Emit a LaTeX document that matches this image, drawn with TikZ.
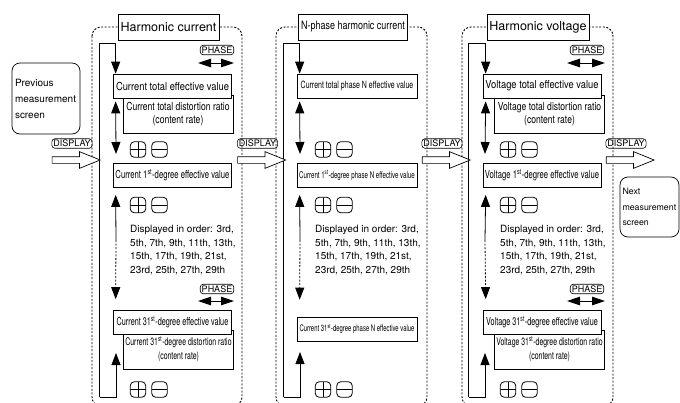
\documentclass[tikz,border=0pt]{standalone}
\usepackage{fontspec}
\setmainfont{TeX Gyre Heros}
\newfontfamily\cnA[FakeStretch=0.85]{TeX Gyre Heros}
\newfontfamily\cnB[FakeStretch=0.78]{TeX Gyre Heros}
\newfontfamily\cnC[FakeStretch=0.70]{TeX Gyre Heros}
\newfontfamily\cnD[FakeStretch=0.66]{TeX Gyre Heros}
\usetikzlibrary{arrows.meta,shapes.arrows}

\tikzset{
  frame/.style={line width=0.9pt,dash pattern=on 2pt off 1.6pt,rounded corners=9pt},
  title/.style={draw,fill=white,line width=0.7pt,minimum height=26pt,inner xsep=2.5pt},
  valbox/.style={draw,fill=white,line width=0.7pt,minimum width=118pt,minimum height=24pt,inner sep=0pt},
  ratiobox/.style={draw,fill=white,line width=0.7pt,minimum width=110pt,inner sep=0pt,align=center},
  key/.style={draw,rounded corners=3pt,line width=0.6pt,inner xsep=1.5pt,inner ysep=0pt,
    minimum height=9.5pt,font=\fontsize{9}{9}\selectfont},
  screen/.style={draw,rounded corners=8pt,line width=0.7pt,align=left,inner xsep=2.5pt},
  pmkey/.style={draw,rounded corners=4pt,line width=0.8pt,minimum size=15.5pt,inner sep=0pt},
  plusbtn/.style={pmkey,path picture={\draw[line width=0.9pt]
    (path picture bounding box.west) -- (path picture bounding box.east)
    (path picture bounding box.north) -- (path picture bounding box.south);}},
  minusbtn/.style={pmkey,path picture={\draw[line width=0.9pt]
    (path picture bounding box.west) -- (path picture bounding box.east);}},
  hollow/.style={single arrow,draw,fill=white,line width=0.7pt,inner sep=3pt,minimum width=16pt,
    single arrow head extend=5pt,single arrow tip angle=44,single arrow head indent=0pt,minimum height=48pt},
  flow/.style={line width=0.8pt,-{Triangle[length=12pt,width=9pt]}},
  twoway/.style={line width=0.8pt,{Triangle[length=12pt,width=9pt]}-{Triangle[length=12pt,width=9pt]}},
  phase/.style={line width=1pt,{Triangle[length=13pt,width=8.5pt]}-{Triangle[length=13pt,width=8.5pt]}},
  skip/.style={line width=0.8pt,dash pattern=on 2pt off 1.6pt,-{Triangle[length=12pt,width=9pt]}},
  order/.style={anchor=north west,align=left,inner sep=0pt,font=\fontsize{10}{13.5}\selectfont}
}

\begin{document}
\begin{tikzpicture}[x=1pt,y=-1pt]
  \useasboundingbox (0,0) rectangle (680,402);

  % screens before and after
  \node[screen,minimum width=68pt,minimum height=71pt,text width=62pt,font=\fontsize{10}{16}\selectfont]
    (prev) at (46,98.5) {Previous\\measurement\\screen};
  \node[screen,minimum width=59pt,minimum height=60pt,text width=54pt,font=\fontsize{8.8}{15.5}\selectfont]
    (next) at (649.5,207) {Next\\measurement\\screen};

  % Harmonic current
  \begin{scope}
    \draw[frame] (92,27) rectangle (242,406);
    \node[title,font=\fontsize{12.5}{13}\selectfont] (hc-title) at (168.5,27) {Harmonic current};
    \coordinate (hc-lt) at (99.5,43);
    \coordinate (hc-lb) at (99.5,397);
    \node[key] (hc-ph1) at (217,50) {PHASE};
    \coordinate (hc-pl1) at (198,63); \coordinate (hc-pr1) at (234,63);
    \draw[phase] (hc-pl1) -- (hc-pr1);
    \node[ratiobox,minimum height=38pt,font=\cnB\fontsize{11}{13}\selectfont] (hc-thd) at (178,114)
      {Current total distortion ratio\\(content rate)};
    \node[valbox,font=\cnA\fontsize{11}{12}\selectfont] (hc-tot) at (172.5,86) {Current total effective value};
    \draw[flow] (hc-lb) -- (hc-lt) -| ([xshift=2.5pt]hc-tot.north west);
    \coordinate (hc-a1) at (116,154);
    \draw[twoway] ([xshift=2.5pt,yshift=-3pt]hc-tot.south west) -- (hc-a1);
    \node[plusbtn] (hc-p1) at (138,149.5) {};
    \node[minusbtn] (hc-m1) at (159.5,149.5) {};
    \node[valbox,font=\cnC\fontsize{11}{12}\selectfont] (hc-1) at (172.5,175.5)
      {Current 1\textsuperscript{st}-degree effective value};
    \node[plusbtn] (hc-p2) at (138,205) {};
    \node[minusbtn] (hc-m2) at (159.5,205) {};
    \node[order] (hc-order) at (130,225.5)
      {Displayed in order: 3rd,\\5th, 7th, 9th, 11th, 13th,\\15th, 17th, 19th, 21st,\\23rd, 25th, 27th, 29th};
    \node[key] (hc-ph2) at (217,289) {PHASE};
    \coordinate (hc-pl2) at (198,301); \coordinate (hc-pr2) at (234,301);
    \draw[phase] (hc-pl2) -- (hc-pr2);
    \node[ratiobox,minimum height=39pt,font=\cnD\fontsize{10.5}{14}\selectfont] (hc-thd31) at (178.5,349.5)
      {Current 31\textsuperscript{st}-degree distortion ratio\\(content rate)};
    \node[valbox,font=\cnD\fontsize{11}{12}\selectfont] (hc-31) at (172.5,322.5)
      {Current 31\textsuperscript{st}-degree effective value};
    \coordinate (hc-mid) at (116,240);
    \draw[flow] (hc-mid) -- ([xshift=2.5pt,yshift=-7pt]hc-1.south west);
    \draw[skip] (hc-mid) -- ([xshift=2.5pt,yshift=11pt]hc-31.north west);
    \coordinate (hc-t31) at (116,353);
    \draw[flow] (hc-lb) -| (hc-t31);
    \node[plusbtn] (hc-p3) at (138,389.5) {};
    \node[minusbtn] (hc-m3) at (159.5,389.5) {};
  \end{scope}

  % N-phase harmonic current
  \begin{scope}[shift={(184,0)}]
    \draw[frame] (92,27) rectangle (243,406);
    \node[title,font=\cnB\fontsize{11.5}{13}\selectfont] (nc-title) at (169,27) {N-phase harmonic current};
    \coordinate (nc-lt) at (99.5,43);
    \coordinate (nc-lb) at (99.5,397);
    \node[valbox,minimum width=120pt,font=\cnC\fontsize{10}{12}\selectfont] (nc-tot) at (173,86)
      {Current total phase N effective value};
    \draw[flow] (nc-lb) -- (nc-lt) -| ([xshift=3pt]nc-tot.north west);
    \coordinate (nc-a1) at (116,154);
    \draw[twoway] ([xshift=3pt,yshift=-3pt]nc-tot.south west) -- (nc-a1);
    \node[plusbtn] (nc-p1) at (139,149.5) {};
    \node[minusbtn] (nc-m1) at (160.5,149.5) {};
    \node[valbox,minimum width=120pt,font=\cnD\fontsize{9.3}{12}\selectfont] (nc-1) at (173,175.5)
      {Current 1\textsuperscript{st}-degree phase N effective value};
    \node[plusbtn] (nc-p2) at (139,205) {};
    \node[minusbtn] (nc-m2) at (160.5,205) {};
    \node[order] (nc-order) at (131,225.5)
      {Displayed in order: 3rd,\\5th, 7th, 9th, 11th, 13th,\\15th, 17th, 19th, 21st,\\23rd, 25th, 27th, 29th};
    \node[valbox,minimum width=120pt,font=\cnD\fontsize{9}{12}\selectfont] (nc-31) at (173,329)
      {Current 31\textsuperscript{st}-degree phase N effective value};
    \coordinate (nc-mid) at (116,240);
    \draw[flow] (nc-mid) -- ([xshift=3pt,yshift=-7pt]nc-1.south west);
    \draw[skip] (nc-mid) -- ([xshift=3pt,yshift=17pt]nc-31.north west);
    \coordinate (nc-t31) at (116,352);
    \draw[flow] (nc-lb) -| (nc-t31);
    \node[plusbtn] (nc-p3) at (139,389.5) {};
    \node[minusbtn] (nc-m3) at (160.5,389.5) {};
  \end{scope}

  % Harmonic voltage
  \begin{scope}[shift={(369,0)}]
    \draw[frame] (93,27) rectangle (244,406);
    \node[title,font=\fontsize{12.5}{13}\selectfont] (hv-title) at (169,27) {Harmonic voltage};
    \coordinate (hv-lt) at (99.5,43);
    \coordinate (hv-lb) at (99.5,397);
    \node[key] (hv-ph1) at (218,50) {PHASE};
    \coordinate (hv-pl1) at (198,63); \coordinate (hv-pr1) at (236,63);
    \draw[phase] (hv-pl1) -- (hv-pr1);
    \node[ratiobox,minimum height=38pt,font=\cnB\fontsize{11}{13}\selectfont] (hv-thd) at (180.5,114)
      {Voltage total distortion ratio\\(content rate)};
    \node[valbox,font=\cnA\fontsize{11}{12}\selectfont] (hv-tot) at (173,86) {Voltage total effective value};
    \draw[flow] (hv-lb) -- (hv-lt) -| ([xshift=3pt]hv-tot.north west);
    \coordinate (hv-a1) at (116,154);
    \draw[twoway] ([xshift=3pt,yshift=-3pt]hv-tot.south west) -- (hv-a1);
    \node[plusbtn] (hv-p1) at (139,149.5) {};
    \node[minusbtn] (hv-m1) at (160.5,149.5) {};
    \node[valbox,font=\cnC\fontsize{11}{12}\selectfont] (hv-1) at (173,175.5)
      {Voltage 1\textsuperscript{st}-degree effective value};
    \node[plusbtn] (hv-p2) at (139,205) {};
    \node[minusbtn] (hv-m2) at (160.5,205) {};
    \node[order] (hv-order) at (131,225.5)
      {Displayed in order: 3rd,\\5th, 7th, 9th, 11th, 13th,\\15th, 17th, 19th, 21st,\\23rd, 25th, 27th, 29th};
    \node[key] (hv-ph2) at (218,289) {PHASE};
    \coordinate (hv-pl2) at (198,301); \coordinate (hv-pr2) at (236,301);
    \draw[phase] (hv-pl2) -- (hv-pr2);
    \node[ratiobox,minimum height=39pt,font=\cnD\fontsize{10.5}{14}\selectfont] (hv-thd31) at (180.5,349.5)
      {Voltage 31\textsuperscript{st}-degree distortion ratio\\(content rate)};
    \node[valbox,font=\cnD\fontsize{11}{12}\selectfont] (hv-31) at (173,322.5)
      {Voltage 31\textsuperscript{st}-degree effective value};
    \coordinate (hv-mid) at (116,240);
    \draw[flow] (hv-mid) -- ([xshift=3pt,yshift=-7pt]hv-1.south west);
    \draw[skip] (hv-mid) -- ([xshift=3pt,yshift=11pt]hv-31.north west);
    \coordinate (hv-t31) at (116,353);
    \draw[flow] (hv-lb) -| (hv-t31);
    \node[plusbtn] (hv-p3) at (139,389.5) {};
    \node[minusbtn] (hv-m3) at (160.5,389.5) {};
  \end{scope}

  % DISPLAY key moves to the next screen
  \node[key] (d1) at (72,143.5) {DISPLAY};
  \node[hollow] (d1-arr) at (72,160) {};
  \node[key] (d2) at (257.5,143.5) {DISPLAY};
  \node[hollow] (d2-arr) at (257.5,160) {};
  \node[key] (d3) at (442,143.5) {DISPLAY};
  \node[hollow] (d3-arr) at (442,160) {};
  \node[key] (d4) at (626,143.5) {DISPLAY};
  \node[hollow] (d4-arr) at (626,160) {};
\end{tikzpicture}
\end{document}
